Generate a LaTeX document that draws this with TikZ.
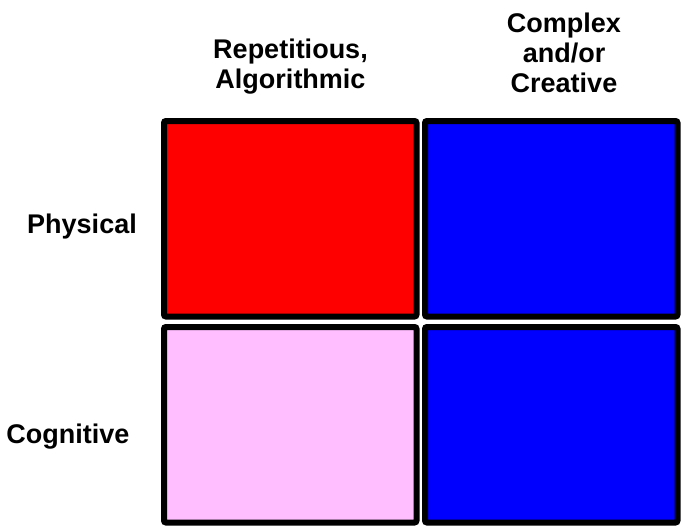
\documentclass[tikz,border=0pt]{standalone}
\usepackage{fontspec}
\setmainfont{Liberation Sans}
\usetikzlibrary{positioning}

\tikzset{
  cell/.style={draw=black,line width=6pt,rounded corners=2pt},
  lbl/.style={font=\fontsize{27}{30}\selectfont\bfseries,align=center,inner sep=0pt,anchor=base}
}
\definecolor{cellpink}{RGB}{255,190,255}

\begin{document}
\begin{tikzpicture}[x=1pt,y=-1pt]
\useasboundingbox (0,0) rectangle (681,528);
% the four cells
\draw[cell,fill=red] (164,121) rectangle (416.5,316.5);
\draw[cell,fill=blue] (425,121) rectangle (677.5,316.5);
\draw[cell,fill=cellpink] (164,327) rectangle (416.5,522.5);
\draw[cell,fill=blue] (425,327) rectangle (677.5,522.5);

% column heads (base = last line)
\node[lbl] (rep) at (290.5,88) {Repetitious,\\Algorithmic};
\node[lbl] (cpx) at (564,92) {Complex\\and/or\\Creative};
% row heads
\node[lbl] (phy) at (82,233) {Physical};
\node[lbl] (cog) at (68,443) {Cognitive};
\end{tikzpicture}
\end{document}
